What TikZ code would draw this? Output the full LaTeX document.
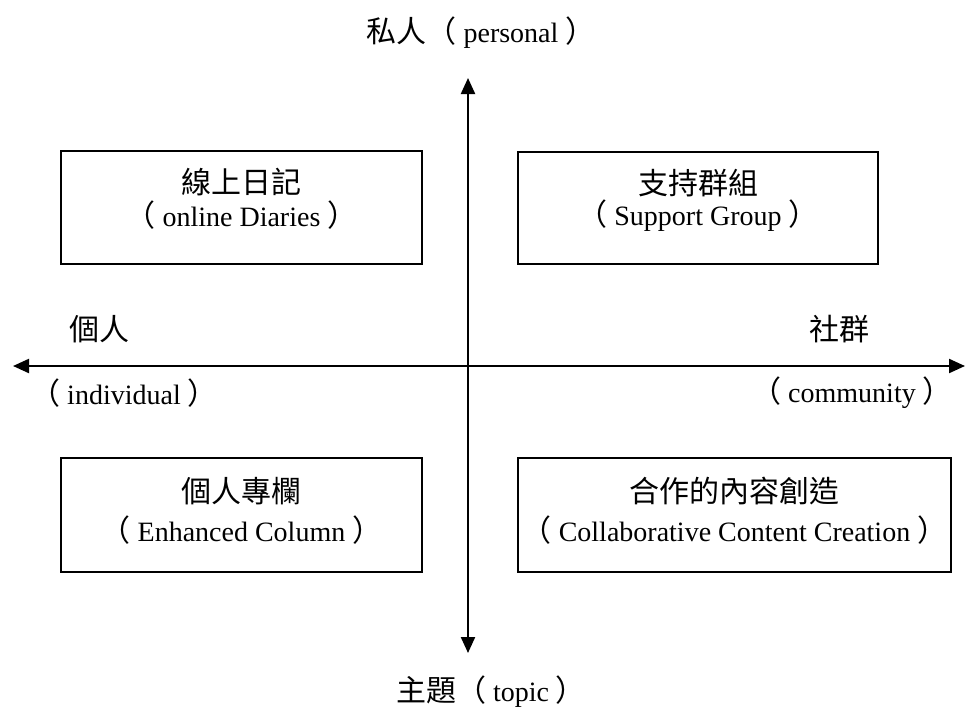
\documentclass[tikz,border=0pt]{standalone}
\usepackage{fontspec}
\setmainfont{Liberation Serif}
\newfontfamily\cjkfont{Noto Sans CJK TC}
\usetikzlibrary{arrows.meta}
\newcommand\zhtext[1]{{\cjkfont\fontsize{30}{34}\selectfont #1}}
\newcommand\lpar{\zhtext{（}\hspace{7pt}}
\newcommand\rpar{\hspace{7pt}\zhtext{）}}
\tikzset{
  box/.style={draw=black, line width=2pt, anchor=north west, inner sep=0pt},
  lbl/.style={inner sep=0pt, font=\fontsize{28}{32}\selectfont, text=black},
  axis/.style={line width=2.2pt, -{Triangle[length=16pt,width=14pt]}},
}
\begin{document}
\begin{tikzpicture}[x=1pt,y=-1pt]
\useasboundingbox (0,0) rectangle (967,713);
% axes
\coordinate (L) at (13,366);
\coordinate (R) at (965,366);
\coordinate (T) at (468,78);
\coordinate (B) at (468,653);
\coordinate (C) at (468,366);
\draw[axis] (C) -- (L);
\draw[axis] (C) -- (R);
\draw[axis] (C) -- (T);
\draw[axis] (C) -- (B);
% axis labels
\node[lbl] (top) at (481,33) {\zhtext{私人}\lpar personal\rpar};
\node[lbl] (bottom) at (491,692) {\zhtext{主題}\lpar topic\rpar};
\node[lbl] (leftzh) at (99,329) {\zhtext{個人}};
\node[lbl] (lefte) at (124,393) {\lpar individual\rpar};
\node[lbl] (rightzh) at (839,329) {\zhtext{社群}};
\node[lbl] (righte) at (852,393) {\lpar community\rpar};
% boxes
\node[box, minimum width=361pt, minimum height=113pt] (tl) at (60,150) {};
\node[box, minimum width=360pt, minimum height=112pt] (tr) at (517,151) {};
\node[box, minimum width=361pt, minimum height=114pt] (bl) at (60,457) {};
\node[box, minimum width=433pt, minimum height=114pt] (br) at (517,457) {};
% box texts
\node[lbl] (tl1) at ([yshift=-32pt]tl.north) {\zhtext{線上日記}};
\node[lbl] (tl2) at ([yshift=-65pt]tl.north) {\lpar online Diaries\rpar};
\node[lbl] (tr1) at ([yshift=-32pt]tr.north) {\zhtext{支持群組}};
\node[lbl] (tr2) at ([yshift=-65pt]tr.north) {\lpar Support Group\rpar};
\node[lbl] (bl1) at ([yshift=-34pt]bl.north) {\zhtext{個人專欄}};
\node[lbl] (bl2) at ([yshift=-73pt]bl.north) {\lpar Enhanced Column\rpar};
\node[lbl] (br1) at ([yshift=-34pt]br.north) {\zhtext{合作的內容創造}};
\node[lbl] (br2) at ([yshift=-73pt]br.north) {\lpar Collaborative Content Creation\rpar};
\end{tikzpicture}
\end{document}
